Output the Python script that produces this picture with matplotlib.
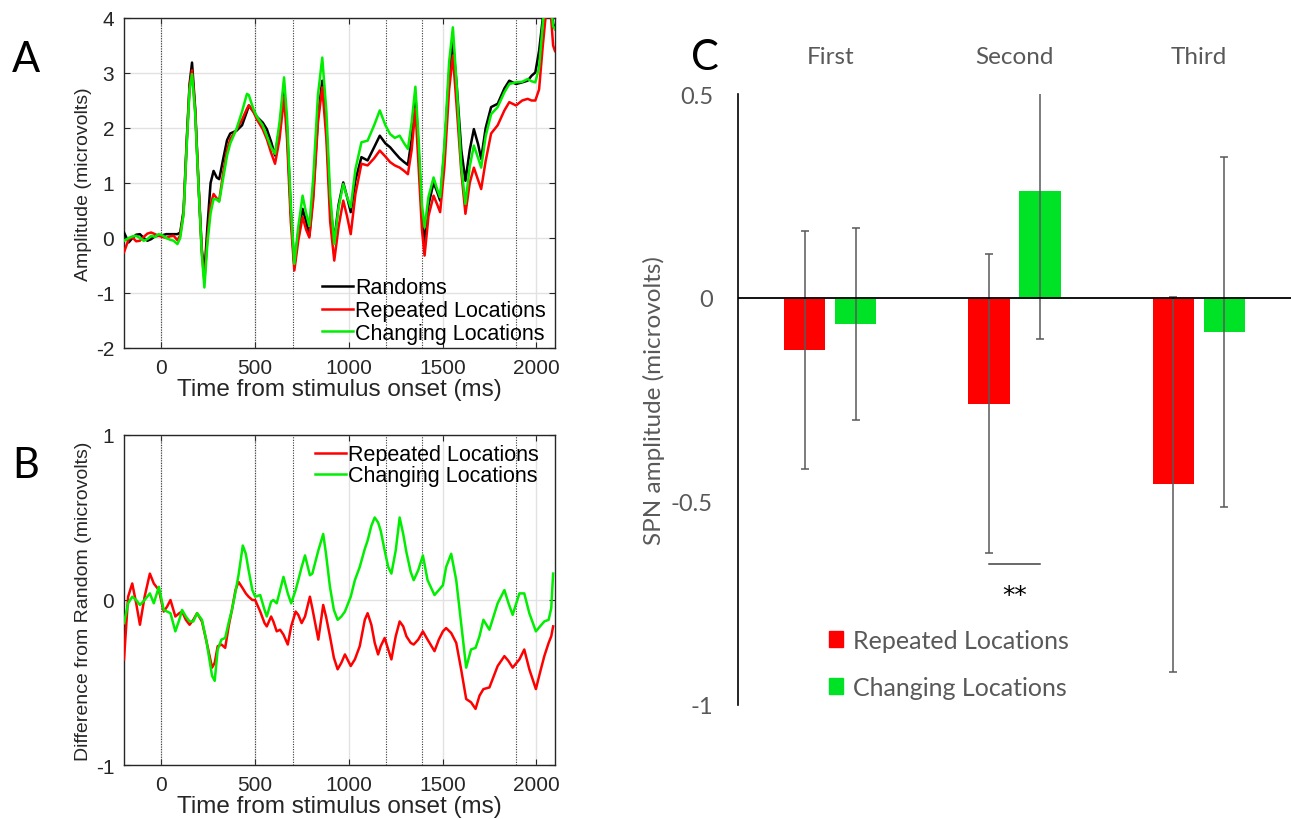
import matplotlib.pyplot as plt
from matplotlib.patches import Patch
import numpy as np

plt.rcParams['axes.unicode_minus'] = False
plt.rcParams['lines.solid_joinstyle'] = 'round'

# A: grand-average ERPs (microvolts)
erp_t = [-200, -175, -155, -135, -115, -95, -75, -55, -35, -15, 5, 25, 45, 65, 85,
         100, 118, 135, 150, 163, 180, 198, 215, 229, 245, 262, 278, 295, 308, 330,
         350, 367, 400, 430, 456, 466, 490, 510, 540, 562, 585, 606, 630, 654, 670,
         690, 709, 730, 753, 772, 789, 810, 835, 858, 880, 900, 922, 945, 970, 990,
         1010, 1035, 1067, 1100, 1135, 1165, 1195, 1220, 1245, 1271, 1295, 1315, 1335,
         1355, 1372, 1390, 1404, 1425, 1452, 1470, 1487, 1510, 1535, 1555, 1575, 1600,
         1622, 1645, 1667, 1690, 1706, 1730, 1759, 1794, 1830, 1856, 1892, 1925, 1954,
         1975, 1995, 2015, 2035, 2055, 2075, 2090, 2100]
erp_random = [0.10, -0.08, 0.00, 0.06, 0.07, 0.00, -0.05, -0.02, 0.03, 0.04, 0.05, 0.07, 0.07, 0.07, 0.07,
              0.10, 0.50, 1.80, 2.80, 3.19, 2.35, 0.95, -0.20, -0.65, 0.20, 1.00, 1.22, 1.10, 1.07, 1.45,
              1.78, 1.90, 1.95, 2.05, 2.30, 2.41, 2.30, 2.20, 2.10, 1.98, 1.75, 1.50, 2.00, 2.74, 2.00,
              0.50, -0.50, 0.10, 0.53, 0.30, 0.04, 0.80, 2.20, 2.86, 2.00, 0.60, -0.05, 0.60, 1.01, 0.75,
              0.47, 1.05, 1.47, 1.41, 1.65, 1.86, 1.72, 1.65, 1.55, 1.45, 1.38, 1.33, 1.80,
              2.62, 1.60, 0.40, -0.11, 0.60, 1.01, 0.85, 0.68, 1.60, 3.00, 3.56, 2.80, 1.60,
              1.04, 1.60, 1.98, 1.70, 1.44, 2.00, 2.38, 2.44, 2.72, 2.86, 2.80, 2.83, 2.86,
              2.95, 3.01, 3.40, 4.00, 4.60, 4.40, 3.90, 3.80]
erp_repeated = [-0.26, -0.02, 0.01, -0.06, -0.05, 0.02, 0.08, 0.10, 0.07, 0.04, 0.02, 0.00, 0.03, 0.04, -0.04,
                0.05, 0.45, 1.75, 2.75, 3.05, 2.30, 0.95, -0.25, -0.78, 0.00, 0.60, 0.80, 0.72, 0.68, 1.20,
                1.60, 1.80, 1.97, 2.15, 2.35, 2.41, 2.30, 2.15, 1.98, 1.80, 1.55, 1.35, 1.80, 2.56, 1.80,
                0.30, -0.59, -0.05, 0.38, 0.15, 0.01, 0.70, 2.10, 2.74, 1.80, 0.30, -0.41, 0.20, 0.68, 0.40,
                0.07, 0.80, 1.35, 1.32, 1.45, 1.59, 1.48, 1.38, 1.32, 1.28, 1.22, 1.16, 1.60,
                2.35, 1.30, 0.15, -0.32, 0.40, 0.77, 0.62, 0.47, 1.30, 2.70, 3.32, 2.40, 1.20,
                0.44, 1.00, 1.28, 1.05, 0.89, 1.40, 1.90, 2.05, 2.32, 2.47, 2.41, 2.50, 2.53,
                2.50, 2.50, 2.70, 3.50, 4.20, 4.20, 3.50, 3.40]
erp_changing = [-0.05, 0.00, 0.03, 0.04, 0.00, -0.05, -0.02, 0.04, 0.02, 0.07, 0.05, 0.00, -0.03, -0.05, -0.11,
                0.00, 0.44, 1.70, 2.70, 2.98, 2.25, 0.92, -0.29, -0.90, -0.10, 0.45, 0.71, 0.70, 0.66, 1.10,
                1.50, 1.72, 1.98, 2.30, 2.62, 2.60, 2.35, 2.20, 2.05, 1.86, 1.65, 1.53, 2.10, 2.92, 2.20,
                0.60, -0.47, 0.20, 0.77, 0.45, 0.22, 1.10, 2.60, 3.28, 2.30, 0.80, -0.11, 0.55, 0.98, 0.75,
                0.56, 1.25, 1.74, 1.77, 2.05, 2.32, 2.05, 1.89, 1.82, 1.86, 1.72, 1.62, 2.10,
                2.75, 1.80, 0.60, 0.19, 0.75, 1.10, 0.90, 0.74, 1.70, 3.20, 3.83, 2.80, 1.30,
                0.62, 1.30, 1.68, 1.45, 1.28, 1.85, 2.25, 2.38, 2.65, 2.80, 2.83, 2.84, 2.89,
                2.85, 2.83, 3.10, 3.90, 4.50, 4.40, 3.85, 3.80]

# B: difference from random (microvolts)
diff_t = [-200, -178, -156, -135, -115, -90, -62, -41, -14, 12, 30, 48, 74, 95, 110,
          130, 150, 170, 190, 216, 240, 270, 284, 300, 320, 340, 360, 376, 395, 411,
          434, 450, 465, 485, 500, 527, 550, 562, 585, 597, 615, 633, 651, 674, 692,
          716, 730, 748, 766, 792, 805, 837, 863, 878, 899, 920, 940, 960, 979, 1010,
          1032, 1058, 1085, 1100, 1120, 1138, 1156, 1170, 1191, 1210, 1227, 1250, 1271,
          1290, 1307, 1330, 1346, 1370, 1395, 1420, 1457, 1480, 1502, 1519, 1546, 1573,
          1599, 1626, 1652, 1676, 1697, 1718, 1750, 1794, 1830, 1852, 1874, 1910, 1936,
          1963, 1998, 2020, 2043, 2066, 2080, 2090]
diff_repeated = [-0.36, 0.02, 0.10, -0.02, -0.15, 0.02, 0.16, 0.10, 0.06, -0.07, -0.04, 0.00, -0.10, -0.08, -0.07,
                 -0.12, -0.15, -0.12, -0.08, -0.13, -0.25, -0.41, -0.38, -0.28, -0.27, -0.29, -0.15, -0.06, 0.06, 0.11,
                 0.07, 0.04, 0.02, 0.00, 0.00, -0.07, -0.14, -0.16, -0.10, -0.13, -0.19, -0.18, -0.21, -0.27, -0.16,
                 -0.07, -0.09, -0.14, -0.10, 0.02, -0.05, -0.24, -0.03, -0.10, -0.22, -0.35, -0.42, -0.38, -0.33, -0.40,
                 -0.36, -0.28, -0.12, -0.08, -0.15, -0.26, -0.33, -0.28, -0.23, -0.30, -0.36, -0.22, -0.13,
                 -0.16, -0.22, -0.26, -0.27, -0.24, -0.19, -0.24, -0.31, -0.24, -0.19, -0.17, -0.20, -0.26,
                 -0.42, -0.60, -0.62, -0.66, -0.58, -0.54, -0.53, -0.40, -0.34, -0.37, -0.41, -0.36, -0.30,
                 -0.42, -0.54, -0.44, -0.34, -0.26, -0.22, -0.16]
diff_changing = [-0.14, -0.02, 0.02, 0.00, -0.03, 0.00, 0.04, -0.02, 0.08, -0.06, -0.07, -0.08, -0.19, -0.12, -0.06,
                 -0.10, -0.13, -0.13, -0.08, -0.12, -0.25, -0.46, -0.49, -0.30, -0.24, -0.23, -0.13, -0.06, 0.05, 0.15,
                 0.33, 0.28, 0.18, 0.06, 0.02, 0.03, -0.06, -0.10, -0.01, 0.00, -0.02, 0.06, 0.14, 0.04, -0.02,
                 0.06, 0.12, 0.20, 0.27, 0.15, 0.16, 0.30, 0.40, 0.28, 0.08, -0.06, -0.12, -0.10, -0.07, 0.02,
                 0.12, 0.20, 0.31, 0.36, 0.45, 0.50, 0.47, 0.42, 0.30, 0.20, 0.16, 0.30, 0.50,
                 0.40, 0.29, 0.17, 0.12, 0.18, 0.27, 0.12, 0.03, 0.06, 0.09, 0.20, 0.28, 0.12,
                 -0.14, -0.41, -0.30, -0.29, -0.22, -0.12, -0.18, -0.02, 0.06, -0.02, -0.09, 0.04, 0.04,
                 -0.08, -0.19, -0.16, -0.13, -0.12, -0.05, 0.16]

event_times = [0, 500, 700, 1200, 1390, 1890]

# C: SPN amplitude per position, mean and error
positions = ['First', 'Second', 'Third']
spn_repeated = [-0.129, -0.261, -0.458]
spn_changing = [-0.065, 0.263, -0.085]
err_repeated = [0.292, 0.367, 0.460]
err_changing = [0.235, 0.364, 0.430]
sig_level = -0.655

RED = '#ff0000'
GREEN = '#00ee00'
BAR_GREEN = '#00e226'
GREY_TXT = '#595959'

W, H = 1291, 820
fig = plt.figure(figsize=(W / 100, H / 100), dpi=100)


def px_axes(left, top, right, bottom):
    return fig.add_axes([left / W, 1 - bottom / H, (right - left) / W, (bottom - top) / H])


def erp_style(ax, ylim, yticks, ylabel):
    ax.set_xlim(-200, 2100)
    ax.set_ylim(*ylim)
    ax.set_xticks(range(0, 2001, 500))
    ax.set_yticks(yticks)
    ax.grid(True, color='#e2e2e2', linewidth=1)
    ax.set_axisbelow(True)
    for t in event_times:
        ax.axvline(t, color='#3a3a3a', linestyle=(0, (1, 1.3)), linewidth=0.8, zorder=1.5)
    ax.tick_params(direction='in', top=True, right=True, length=4, width=0.8,
                   labelsize=15, colors='#262626', pad=7)
    for s in ax.spines.values():
        s.set_color('#262626')
        s.set_linewidth(1)
    for lbl in ax.get_xticklabels() + ax.get_yticklabels():
        lbl.set_family('Liberation Sans')
    ax.set_xlabel('Time from stimulus onset (ms)', fontsize=17.5, family='Liberation Sans',
                  labelpad=1, color='#262626')
    ax.set_ylabel(ylabel, fontsize=14, family='Liberation Sans', labelpad=3, color='#262626')


ax_a = px_axes(124, 19, 555, 349)
ax_b = px_axes(124, 436, 555, 766)
ax_c = px_axes(738, 95, 1291, 706)

# panel A
ax_a.plot(erp_t, erp_random, color='black', lw=1.8, label='Randoms', zorder=3)
ax_a.plot(erp_t, erp_repeated, color=RED, lw=1.8, label='Repeated Locations', zorder=3)
ax_a.plot(erp_t, erp_changing, color=GREEN, lw=1.8, label='Changing Locations', zorder=3)
erp_style(ax_a, (-2, 4), range(-2, 5), 'Amplitude (microvolts)')
ax_a.legend(loc='upper left', bbox_to_anchor=(0.459, 0.214), frameon=False,
            prop={'family': 'Liberation Sans', 'size': 15.5}, handlelength=1.45,
            handletextpad=0.1, labelspacing=0.08, borderpad=0, borderaxespad=0)

# panel B
ax_b.plot(diff_t, diff_repeated, color=RED, lw=1.8, label='Repeated Locations', zorder=3)
ax_b.plot(diff_t, diff_changing, color=GREEN, lw=1.8, label='Changing Locations', zorder=3)
erp_style(ax_b, (-1, 1), [-1, 0, 1], 'Difference from Random (microvolts)')
ax_b.legend(loc='upper left', bbox_to_anchor=(0.443, 0.972), frameon=False,
            prop={'family': 'Liberation Sans', 'size': 15.5}, handlelength=1.45,
            handletextpad=0.1, labelspacing=0.0, borderpad=0, borderaxespad=0)

# panel C
x = np.arange(len(positions))
off, width = 0.138, 0.225
ebar = dict(ecolor='#595959', elinewidth=1.1, capsize=3, capthick=1.1)
ax_c.bar(x - off, spn_repeated, width, color=RED, yerr=err_repeated, error_kw=ebar, zorder=2)
ax_c.bar(x + off, spn_changing, width, color=BAR_GREEN, yerr=err_changing, error_kw=ebar, zorder=2)
ax_c.axhline(0, color='black', lw=1.3, zorder=3)
ax_c.set_xlim(-0.5, 2.5)
ax_c.set_ylim(-1, 0.5)
ax_c.set_xticks([])
ax_c.set_yticks([-1, -0.5, 0, 0.5])
ax_c.set_yticklabels(['-1', '-0.5', '0', '0.5'])
ax_c.tick_params(axis='y', length=0, pad=18, labelsize=17, labelcolor=GREY_TXT)
for lbl in ax_c.get_yticklabels():
    lbl.set_family('Lato')
for side in ('top', 'right', 'bottom'):
    ax_c.spines[side].set_visible(False)
ax_c.spines['left'].set_color('black')
ax_c.spines['left'].set_linewidth(1.2)
ax_c.set_ylabel('SPN amplitude (microvolts)', fontsize=17.5, family='Lato', color=GREY_TXT, labelpad=4)
for xi, name in zip(x, positions):
    ax_c.text(xi, 1.061, name, transform=ax_c.get_xaxis_transform(), ha='center', va='center',
              fontsize=17.5, family='Lato', color=GREY_TXT)
# significance marker between the second-position bars
ax_c.plot([1 - off, 1 + off], [sig_level, sig_level], color='#404040', lw=1.1)
ax_c.text(1, sig_level - 0.075, '**', ha='center', va='center', fontsize=18,
          family='DejaVu Sans', color='black')
ax_c.legend(handles=[Patch(color=RED, label='Repeated Locations'),
                     Patch(color=BAR_GREEN, label='Changing Locations')],
            loc='center left', bbox_to_anchor=(0.165, 0.0675), frameon=False,
            prop={'family': 'Lato', 'size': 18}, labelcolor=GREY_TXT,
            handlelength=0.55, handleheight=0.6, handletextpad=0.4, labelspacing=0.95,
            borderpad=0, borderaxespad=0)

# panel letters
for letter, (px, py) in {'A': (26, 60), 'B': (26, 466), 'C': (705, 58)}.items():
    fig.text(px / W, 1 - py / H, letter, fontsize=30, family='Lato', ha='center', va='center')

fig.savefig('out.png', dpi=100)
